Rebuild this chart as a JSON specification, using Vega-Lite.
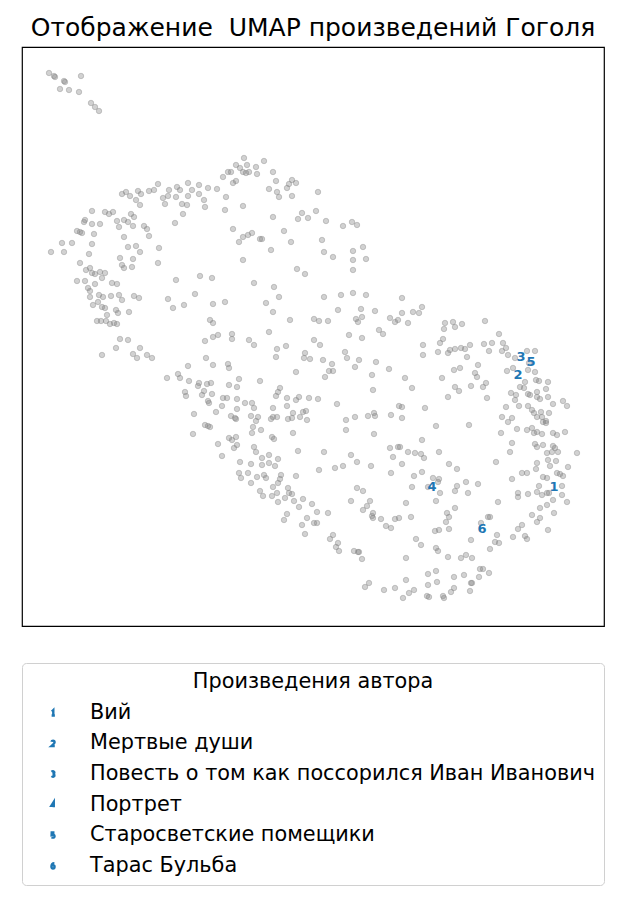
{
  "$schema": "https://vega.github.io/schema/vega-lite/v6.json",
  "autosize": "none",
  "width": 582,
  "height": 579,
  "padding": {"left": 22, "top": 47, "right": 14, "bottom": 273},
  "background": "white",
  "title": {"text": "Отображение\u00a0 UMAP произведений Гоголя", "font": "DejaVu Sans", "fontSize": 25, "fontWeight": "normal", "color": "#000000", "baseline": "alphabetic", "offset": 10, "dy": 24, "anchor": "middle"},
  "config": {"view": {"stroke": "#000000", "strokeWidth": 1.2}},
  "datasets": {
    "pts": [
      {"x":49,"y":73},{"x":54,"y":76},{"x":55,"y":77},{"x":64,"y":81},{"x":65,"y":82},{"x":81,"y":76},{"x":60,"y":89},{"x":69,"y":90},{"x":79,"y":92},{"x":91,"y":103},{"x":95,"y":107},{"x":99,"y":111},
      {"x":158,"y":184},{"x":122,"y":194},{"x":126,"y":192},{"x":130,"y":196},{"x":138,"y":191},{"x":141,"y":194},{"x":136,"y":200},{"x":140,"y":205},{"x":149,"y":191},{"x":154,"y":190},{"x":163,"y":198},{"x":165,"y":204},{"x":168,"y":196},{"x":169,"y":190},{"x":176,"y":197},{"x":177,"y":187},{"x":180,"y":190},{"x":182,"y":204},{"x":187,"y":205},{"x":188,"y":196},{"x":188,"y":183},{"x":192,"y":190},{"x":199,"y":185},{"x":199,"y":194},{"x":204,"y":200},{"x":205,"y":207},{"x":208,"y":188},{"x":175,"y":223},{"x":183,"y":214},{"x":92,"y":211},{"x":105,"y":212},{"x":109,"y":214},{"x":113,"y":212},{"x":85,"y":220},{"x":84,"y":222},{"x":92,"y":224},{"x":100,"y":224},{"x":77,"y":231},{"x":80,"y":232},{"x":82,"y":233},{"x":94,"y":234},{"x":117,"y":221},{"x":119,"y":227},{"x":124,"y":220},{"x":128,"y":222},{"x":131,"y":214},{"x":134,"y":217},{"x":133,"y":226},{"x":144,"y":226},{"x":147,"y":229},{"x":149,"y":236},{"x":124,"y":237},
      {"x":244,"y":158},{"x":236,"y":165},{"x":240,"y":168},{"x":247,"y":165},{"x":256,"y":167},{"x":264,"y":161},{"x":228,"y":172},{"x":231,"y":172},{"x":243,"y":172},{"x":246,"y":173},{"x":249,"y":172},{"x":257,"y":174},{"x":223,"y":177},{"x":273,"y":172},{"x":233,"y":183},{"x":236,"y":181},{"x":276,"y":181},{"x":292,"y":180},{"x":289,"y":184},{"x":296,"y":183},{"x":217,"y":189},{"x":269,"y":189},{"x":277,"y":192},{"x":279,"y":197},{"x":287,"y":188},{"x":292,"y":196},{"x":318,"y":192},{"x":226,"y":197},{"x":225,"y":210},{"x":243,"y":206},{"x":273,"y":217},{"x":302,"y":213},{"x":298,"y":219},{"x":308,"y":218},{"x":316,"y":211},{"x":326,"y":221},{"x":343,"y":226},{"x":352,"y":222},{"x":357,"y":225},{"x":233,"y":229},{"x":284,"y":231},{"x":239,"y":242},{"x":243,"y":237},{"x":248,"y":235},{"x":252,"y":233},{"x":260,"y":239},{"x":262,"y":239},{"x":291,"y":242},{"x":271,"y":250},{"x":322,"y":240},{"x":324,"y":252},{"x":333,"y":257},{"x":353,"y":251},{"x":363,"y":247},{"x":353,"y":260},{"x":366,"y":259},{"x":243,"y":260},{"x":353,"y":270},{"x":297,"y":269},{"x":305,"y":274},{"x":212,"y":278},{"x":254,"y":283},{"x":274,"y":287},{"x":279,"y":297},{"x":324,"y":297},{"x":341,"y":295},{"x":353,"y":293},{"x":366,"y":295},{"x":402,"y":298},{"x":213,"y":304},{"x":225,"y":302},{"x":266,"y":303},{"x":273,"y":312},{"x":338,"y":310},{"x":361,"y":309},{"x":362,"y":317},{"x":356,"y":319},{"x":358,"y":322},{"x":375,"y":311},{"x":290,"y":320},{"x":314,"y":319},{"x":319,"y":321},{"x":328,"y":321},{"x":390,"y":318},{"x":395,"y":322},{"x":398,"y":320},{"x":213,"y":323},{"x":210,"y":320},{"x":379,"y":330},
      {"x":62,"y":243},{"x":72,"y":243},{"x":92,"y":244},{"x":51,"y":252},{"x":64,"y":252},{"x":89,"y":254},{"x":128,"y":247},{"x":136,"y":246},{"x":140,"y":252},{"x":159,"y":248},{"x":120,"y":258},{"x":133,"y":259},{"x":158,"y":263},{"x":80,"y":263},{"x":122,"y":265},{"x":124,"y":268},{"x":132,"y":267},{"x":86,"y":270},{"x":90,"y":268},{"x":92,"y":273},{"x":95,"y":274},{"x":100,"y":272},{"x":105,"y":273},{"x":102,"y":278},{"x":77,"y":281},{"x":85,"y":281},{"x":95,"y":284},{"x":112,"y":283},{"x":117,"y":284},{"x":88,"y":288},{"x":90,"y":291},{"x":99,"y":295},{"x":103,"y":297},{"x":111,"y":296},{"x":119,"y":295},{"x":122,"y":300},{"x":134,"y":296},{"x":139,"y":298},{"x":90,"y":297},{"x":98,"y":302},{"x":93,"y":305},{"x":102,"y":307},{"x":105,"y":308},{"x":116,"y":310},{"x":118,"y":313},{"x":129,"y":312},{"x":107,"y":315},{"x":97,"y":321},{"x":101,"y":321},{"x":106,"y":321},{"x":110,"y":324},{"x":114,"y":323},{"x":117,"y":324},{"x":120,"y":339},{"x":128,"y":340},{"x":116,"y":348},{"x":140,"y":348},{"x":102,"y":355},{"x":133,"y":354},{"x":137,"y":358},{"x":147,"y":355},{"x":152,"y":358},{"x":176,"y":280},{"x":200,"y":276},{"x":195,"y":294},{"x":168,"y":299},{"x":173,"y":308},{"x":184,"y":305},{"x":205,"y":341},{"x":206,"y":358},{"x":167,"y":378},{"x":178,"y":374},{"x":180,"y":378},{"x":188,"y":366},{"x":189,"y":381},{"x":198,"y":386},{"x":199,"y":383},{"x":207,"y":384},{"x":185,"y":392},{"x":186,"y":396},{"x":202,"y":395},{"x":204,"y":391},{"x":208,"y":401},{"x":209,"y":403},{"x":194,"y":414},{"x":193,"y":434},{"x":205,"y":425},{"x":208,"y":426},
      {"x":218,"y":335},{"x":213,"y":337},{"x":232,"y":334},{"x":232,"y":339},{"x":249,"y":340},{"x":254,"y":345},{"x":269,"y":332},{"x":277,"y":349},{"x":276,"y":357},{"x":286,"y":346},{"x":305,"y":353},{"x":304,"y":358},{"x":310,"y":359},{"x":314,"y":340},{"x":320,"y":345},{"x":323,"y":360},{"x":332,"y":364},{"x":329,"y":371},{"x":333,"y":371},{"x":325,"y":377},{"x":296,"y":372},{"x":345,"y":352},{"x":347,"y":358},{"x":349,"y":335},{"x":362,"y":338},{"x":355,"y":367},{"x":359,"y":360},{"x":376,"y":362},{"x":372,"y":375},{"x":389,"y":369},{"x":383,"y":334},{"x":373,"y":390},{"x":213,"y":365},{"x":228,"y":364},{"x":229,"y":368},{"x":211,"y":383},{"x":229,"y":385},{"x":237,"y":387},{"x":239,"y":379},{"x":260,"y":381},{"x":280,"y":388},{"x":278,"y":392},{"x":276,"y":396},{"x":212,"y":394},{"x":223,"y":398},{"x":227,"y":398},{"x":222,"y":406},{"x":216,"y":412},{"x":237,"y":399},{"x":245,"y":403},{"x":252,"y":403},{"x":254,"y":408},{"x":237,"y":409},{"x":231,"y":416},{"x":235,"y":418},{"x":236,"y":419},{"x":251,"y":416},{"x":256,"y":421},{"x":258,"y":417},{"x":253,"y":427},{"x":261,"y":430},{"x":252,"y":433},{"x":273,"y":408},{"x":273,"y":417},{"x":277,"y":417},{"x":271,"y":419},{"x":287,"y":398},{"x":296,"y":400},{"x":299,"y":397},{"x":309,"y":398},{"x":318,"y":399},{"x":337,"y":404},{"x":287,"y":406},{"x":293,"y":413},{"x":292,"y":418},{"x":288,"y":419},{"x":303,"y":412},{"x":306,"y":411},{"x":300,"y":417},{"x":307,"y":420},{"x":293,"y":433},{"x":272,"y":437},{"x":274,"y":439},{"x":210,"y":427},{"x":229,"y":438},{"x":232,"y":440},{"x":236,"y":437},{"x":234,"y":448},{"x":237,"y":445},{"x":218,"y":444},{"x":222,"y":456},{"x":254,"y":447},{"x":256,"y":452},{"x":262,"y":458},{"x":269,"y":455},{"x":269,"y":463},{"x":275,"y":466},{"x":278,"y":459},{"x":262,"y":465},{"x":251,"y":464},{"x":240,"y":462},{"x":239,"y":473},{"x":241,"y":478},{"x":248,"y":473},{"x":251,"y":483},{"x":257,"y":477},{"x":264,"y":475},{"x":266,"y":478},{"x":260,"y":491},{"x":263,"y":496},{"x":281,"y":475},{"x":280,"y":479},{"x":278,"y":483},{"x":273,"y":487},{"x":272,"y":496},{"x":277,"y":493},{"x":278,"y":502},{"x":288,"y":488},{"x":289,"y":493},{"x":292,"y":494},{"x":285,"y":498},{"x":294,"y":501},{"x":296,"y":476},{"x":298,"y":451},{"x":299,"y":507},{"x":287,"y":514},{"x":284,"y":520},{"x":324,"y":452},{"x":319,"y":470},{"x":335,"y":468},{"x":343,"y":466},{"x":351,"y":455},{"x":357,"y":462},{"x":371,"y":466},{"x":346,"y":420},{"x":346,"y":430},{"x":355,"y":417},{"x":368,"y":416},{"x":374,"y":413},{"x":375,"y":416},{"x":374,"y":434},{"x":391,"y":415},{"x":399,"y":406},{"x":390,"y":448},{"x":398,"y":447},{"x":393,"y":457},{"x":391,"y":473},
      {"x":422,"y":307},{"x":413,"y":312},{"x":419,"y":313},{"x":408,"y":323},{"x":402,"y":313},{"x":445,"y":323},{"x":453,"y":322},{"x":455,"y":327},{"x":462,"y":324},{"x":485,"y":321},{"x":444,"y":329},{"x":443,"y":339},{"x":440,"y":343},{"x":423,"y":345},{"x":423,"y":355},{"x":438,"y":352},{"x":448,"y":353},{"x":450,"y":350},{"x":455,"y":349},{"x":461,"y":348},{"x":465,"y":349},{"x":470,"y":345},{"x":467,"y":357},{"x":484,"y":344},{"x":492,"y":343},{"x":489,"y":351},{"x":499,"y":334},{"x":503,"y":343},{"x":502,"y":351},{"x":506,"y":348},{"x":508,"y":355},{"x":515,"y":358},{"x":527,"y":351},{"x":535,"y":351},{"x":529,"y":363},{"x":478,"y":365},{"x":460,"y":368},{"x":454,"y":370},{"x":475,"y":373},{"x":477,"y":377},{"x":442,"y":378},{"x":507,"y":371},{"x":513,"y":368},{"x":528,"y":370},{"x":535,"y":372},{"x":536,"y":380},{"x":539,"y":381},{"x":548,"y":382},{"x":525,"y":382},{"x":405,"y":378},{"x":412,"y":388},{"x":455,"y":387},{"x":459,"y":391},{"x":471,"y":386},{"x":483,"y":387},{"x":486,"y":383},{"x":520,"y":387},{"x":524,"y":388},{"x":546,"y":389},{"x":537,"y":392},{"x":511,"y":393},{"x":516,"y":395},{"x":528,"y":394},{"x":530,"y":395},{"x":448,"y":397},{"x":487,"y":398},{"x":537,"y":397},{"x":540,"y":399},{"x":548,"y":397},{"x":515,"y":400},{"x":519,"y":406},{"x":528,"y":406},{"x":506,"y":407},{"x":532,"y":410},{"x":534,"y":413},{"x":541,"y":412},{"x":549,"y":413},{"x":553,"y":404},{"x":563,"y":401},{"x":567,"y":406},{"x":425,"y":408},{"x":402,"y":407},{"x":402,"y":418},{"x":502,"y":417},{"x":512,"y":418},{"x":508,"y":422},{"x":537,"y":417},{"x":542,"y":417},{"x":543,"y":422},{"x":546,"y":423},{"x":546,"y":421},{"x":517,"y":429},{"x":527,"y":430},{"x":532,"y":428},{"x":534,"y":433},{"x":537,"y":432},{"x":542,"y":434},{"x":501,"y":433},{"x":553,"y":433},{"x":557,"y":435},{"x":565,"y":432},{"x":436,"y":426},{"x":469,"y":425},{"x":512,"y":443},{"x":510,"y":452},{"x":535,"y":444},{"x":537,"y":447},{"x":543,"y":445},{"x":553,"y":446},{"x":555,"y":448},{"x":552,"y":452},{"x":558,"y":452},{"x":547,"y":453},{"x":577,"y":453},{"x":548,"y":460},{"x":556,"y":461},{"x":550,"y":466},{"x":496,"y":462},{"x":400,"y":447},{"x":408,"y":452},{"x":415,"y":453},{"x":421,"y":454},{"x":424,"y":458},{"x":422,"y":440},{"x":439,"y":452},{"x":402,"y":464},{"x":449,"y":464},{"x":457,"y":469},{"x":568,"y":467},{"x":537,"y":463},{"x":536,"y":469},{"x":422,"y":472},{"x":414,"y":476},{"x":433,"y":478},{"x":439,"y":479},
      {"x":303,"y":499},{"x":312,"y":504},{"x":317,"y":512},{"x":328,"y":513},{"x":307,"y":518},{"x":314,"y":523},{"x":317,"y":523},{"x":302,"y":525},{"x":305,"y":534},{"x":351,"y":501},{"x":357,"y":488},{"x":363,"y":491},{"x":370,"y":501},{"x":367,"y":506},{"x":363,"y":510},{"x":373,"y":513},{"x":372,"y":516},{"x":373,"y":518},{"x":381,"y":519},{"x":386,"y":526},{"x":391,"y":528},{"x":395,"y":519},{"x":399,"y":518},{"x":406,"y":503},{"x":411,"y":517},{"x":412,"y":487},{"x":428,"y":487},{"x":438,"y":482},{"x":440,"y":493},{"x":436,"y":501},{"x":455,"y":491},{"x":457,"y":486},{"x":466,"y":482},{"x":468,"y":493},{"x":478,"y":484},{"x":455,"y":508},{"x":447,"y":513},{"x":449,"y":517},{"x":446,"y":522},{"x":449,"y":529},{"x":435,"y":531},{"x":439,"y":530},{"x":416,"y":539},{"x":421,"y":545},{"x":406,"y":558},{"x":436,"y":548},{"x":438,"y":551},{"x":448,"y":557},{"x":461,"y":558},{"x":466,"y":555},{"x":472,"y":558},{"x":471,"y":540},{"x":481,"y":523},{"x":488,"y":517},{"x":490,"y":517},{"x":498,"y":502},{"x":495,"y":542},{"x":499,"y":543},{"x":497,"y":535},{"x":490,"y":549},{"x":330,"y":539},{"x":333,"y":535},{"x":338,"y":543},{"x":336,"y":547},{"x":339,"y":551},{"x":354,"y":551},{"x":358,"y":552},{"x":359,"y":552},{"x":362,"y":559},{"x":428,"y":574},{"x":436,"y":571},{"x":428,"y":585},{"x":437,"y":582},{"x":454,"y":577},{"x":464,"y":575},{"x":472,"y":583},{"x":479,"y":577},{"x":480,"y":569},{"x":483,"y":569},{"x":489,"y":573},{"x":406,"y":580},{"x":369,"y":583},{"x":365,"y":587},{"x":384,"y":590},{"x":395,"y":588},{"x":403,"y":598},{"x":409,"y":593},{"x":414,"y":590},{"x":427,"y":596},{"x":429,"y":597},{"x":443,"y":596},{"x":444,"y":598},{"x":451,"y":592},{"x":454,"y":588},{"x":470,"y":591},{"x":471,"y":583},
      {"x":512,"y":479},{"x":522,"y":473},{"x":527,"y":473},{"x":518,"y":493},{"x":518,"y":497},{"x":528,"y":494},{"x":537,"y":492},{"x":542,"y":495},{"x":539,"y":486},{"x":543,"y":477},{"x":547,"y":478},{"x":547,"y":493},{"x":549,"y":493},{"x":553,"y":500},{"x":562,"y":486},{"x":562,"y":495},{"x":567,"y":502},{"x":547,"y":505},{"x":540,"y":508},{"x":554,"y":513},{"x":532,"y":515},{"x":540,"y":518},{"x":537,"y":522},{"x":522,"y":525},{"x":518,"y":529},{"x":548,"y":530},{"x":513,"y":537},{"x":525,"y":536},{"x":527,"y":539},{"x":557,"y":473},{"x":560,"y":474},{"x":563,"y":476}
    ],
    "works": [
      {"x":554,"y":487,"n":"1","name":"Вий"},
      {"x":518,"y":375,"n":"2","name":"Мертвые души"},
      {"x":521,"y":357,"n":"3","name":"Повесть о том как поссорился Иван Иванович"},
      {"x":432,"y":487,"n":"4","name":"Портрет"},
      {"x":531,"y":362,"n":"5","name":"Старосветские помещики"},
      {"x":482,"y":529,"n":"6","name":"Тарас Бульба"}
    ]
  },
  "layer": [
    {
      "data": {"name": "pts"},
      "mark": {"type": "circle", "size": 30, "fill": "#808080", "fillOpacity": 0.36, "stroke": "#808080", "strokeOpacity": 0.36, "strokeWidth": 1},
      "encoding": {
        "x": {"field": "x", "type": "quantitative", "scale": {"domain": [22, 604], "nice": false, "zero": false}, "axis": null},
        "y": {"field": "y", "type": "quantitative", "scale": {"domain": [47, 626], "nice": false, "zero": false, "reverse": true}, "axis": null}
      }
    },
    {
      "data": {"name": "works"},
      "mark": {"type": "point", "filled": false, "stroke": "#1f77b4", "strokeOpacity": 0, "fillOpacity": 0, "size": 384},
      "encoding": {
        "x": {"field": "x", "type": "quantitative"},
        "y": {"field": "y", "type": "quantitative"},
        "shape": {
          "field": "name", "type": "nominal",
          "scale": {
            "domain": ["Вий", "Мертвые души", "Повесть о том как поссорился Иван Иванович", "Портрет", "Старосветские помещики", "Тарас Бульба"],
            "range": [
              "M-0.12,-0.13L0.03,-0.28L0.03,0.28M-0.14,0.28L0.19,0.28",
              "M-0.16,-0.16Q-0.13,-0.28 0,-0.28Q0.16,-0.28 0.16,-0.12Q0.16,0 -0.16,0.28L0.18,0.28",
              "M-0.16,-0.22Q0,-0.33 0.13,-0.2Q0.18,-0.06 -0.03,0Q0.18,0.03 0.14,0.19Q0,0.34 -0.16,0.22",
              "M0.08,0.28L0.08,-0.28L-0.17,0.11L0.19,0.11",
              "M0.15,-0.28L-0.13,-0.28L-0.14,-0.02Q0.16,-0.11 0.16,0.11Q0.16,0.31 -0.16,0.22",
              "M0.14,-0.27Q-0.16,-0.28 -0.16,0.07Q-0.16,0.28 0,0.28Q0.16,0.28 0.16,0.1Q0.16,-0.06 0,-0.06Q-0.15,-0.06 -0.16,0.07"
            ]
          },
          "legend": {
            "title": "Произведения автора",
            "orient": "none",
            "legendX": 0,
            "legendY": 616,
            "direction": "vertical",
            "padding": 9,
            "fillColor": "#ffffff",
            "strokeColor": "#d0d0d0",
            "cornerRadius": 4,
            "titleFont": "DejaVu Sans",
            "titleFontSize": 20.8,
            "titleFontWeight": "normal",
            "titleColor": "#000000",
            "titleAnchor": "middle",
            "titlePadding": 9,
            "titleLimit": 0,
            "labelFont": "DejaVu Sans",
            "labelFontSize": 20.8,
            "labelColor": "#000000",
            "labelLimit": 0,
            "labelOffset": 26,
            "symbolSize": 384,
            "symbolOffset": 11,
            "symbolStrokeColor": "#1f77b4",
            "symbolStrokeWidth": 2.4,
            "symbolFillColor": "transparent",
            "symbolOpacity": 1,
            "rowPadding": 9.6,
            "encode": {"symbols": {"update": {"opacity": {"value": 1}, "strokeOpacity": {"value": 1}, "fillOpacity": {"value": 0}, "stroke": {"value": "#1f77b4"}}}}
          }
        }
      }
    },
    {
      "data": {"name": "works"},
      "mark": {"type": "text", "font": "DejaVu Sans", "fontSize": 13, "fontWeight": "bold", "color": "#1f77b4", "align": "center", "baseline": "middle"},
      "encoding": {
        "x": {"field": "x", "type": "quantitative"},
        "y": {"field": "y", "type": "quantitative"},
        "text": {"field": "n", "type": "nominal"}
      }
    }
  ]
}
